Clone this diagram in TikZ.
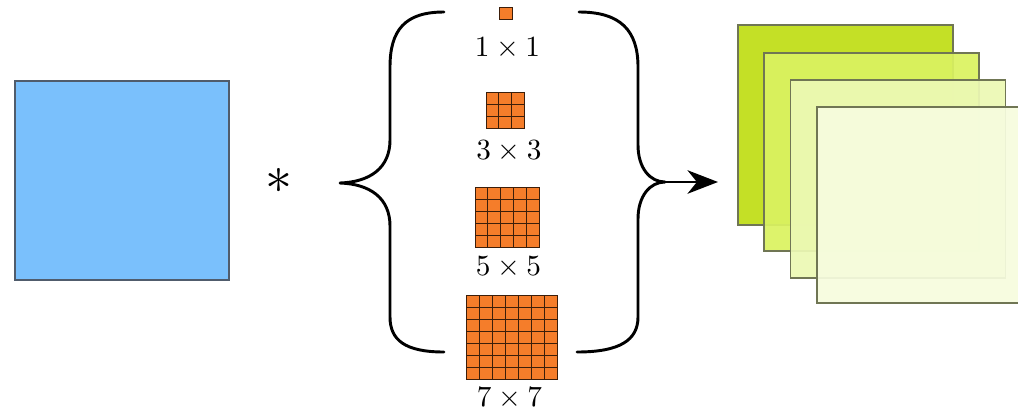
\documentclass[tikz,border=0pt]{standalone}
\usepackage{amsmath,amssymb}
\usepackage{xcolor}
\usepackage{tikz}
\usetikzlibrary{arrows.meta, positioning, calc}
\definecolor{inblue}{RGB}{122,192,252}
\definecolor{inedge}{RGB}{80,92,108}
\definecolor{kernorange}{RGB}{245,125,42}
\definecolor{kernedge}{RGB}{60,30,10}
\definecolor{mapA}{RGB}{192,222,22}
\definecolor{mapB}{RGB}{218,242,96}
\definecolor{mapC}{RGB}{236,249,180}
\definecolor{mapD}{RGB}{246,252,222}
\definecolor{mapedge}{RGB}{112,118,84}

\begin{document}
\begin{tikzpicture}[
    x=0.03cm, y=0.03cm,
    inmap/.style={draw=inedge, fill=inblue, line width=1pt, inner sep=0pt, outer sep=0pt},
    kern/.style={draw=kernedge, fill=kernorange, line width=0.8pt, inner sep=0pt, outer sep=0pt},
    cellline/.style={draw=kernedge, line width=0.7pt},
    klabel/.style={scale=2.5, transform shape, inner sep=0pt},
    featmap/.style={draw=mapedge, line width=0.9pt, inner sep=0pt, outer sep=0pt,
                    minimum width=6.45cm, fill opacity=0.93},
    brace/.style={line width=2.5pt, line cap=round, line join=round},
    flowarr/.style={-{Stealth[length=26pt, width=20pt, inset=8pt]}, line width=2.5pt},
]
\useasboundingbox (0,0) rectangle (1018,-411);
\clip (0,0) rectangle (1018,-411);

% --- Input ---
\node[inmap, minimum width=6.42cm, minimum height=5.97cm] (input) at (122,-180.5) {};
\node[scale=4.6, transform shape, inner sep=0pt] (conv) at (279,-181) {$\ast$};

% --- Kernels ---
\node[kern, minimum width=0.40cm, minimum height=0.38cm] (k1) at (506,-13.5) {};
\node[kern, minimum width=1.14cm, minimum height=1.08cm] (k3) at (505,-110) {};
\node[kern, minimum width=1.92cm, minimum height=1.80cm] (k5) at (507,-217) {};
\node[kern, minimum width=2.73cm, minimum height=2.52cm] (k7) at (511.5,-337) {};

\foreach \k/\n in {k3/3, k5/5, k7/7} {
  \pgfmathtruncatemacro{\m}{\n-1}
  \foreach \i in {1,...,\m} {
    \draw[cellline] ($(\k.north west)!\i/\n!(\k.north east)$) -- ($(\k.south west)!\i/\n!(\k.south east)$);
    \draw[cellline] ($(\k.north west)!\i/\n!(\k.south west)$) -- ($(\k.north east)!\i/\n!(\k.south east)$);
  }
}

\node[klabel] (l1) at (507.5,-48) {$1\times 1$};
\node[klabel] (l3) at (509,-151) {$3\times 3$};
\node[klabel] (l5) at (508.5,-267) {$5\times 5$};
\node[klabel] (l7) at (509.5,-398) {$7\times 7$};

% --- Braces ---
\draw[brace] (444,-12) .. controls (405,-12) and (390,-30) .. (390,-67) -- (390,-140)
    .. controls (390,-168) and (370,-182) .. (340,-183)
    .. controls (370,-184) and (390,-198) .. (390,-226) -- (390,-317)
    .. controls (390,-340) and (405,-352) .. (444,-352);
\draw[brace] (579,-12) .. controls (620,-12) and (638,-30) .. (638,-67) -- (638,-145)
    .. controls (638,-168) and (650,-182) .. (665,-182)
    .. controls (650,-182) and (638,-196) .. (638,-219) -- (638,-317)
    .. controls (638,-340) and (620,-352) .. (577,-352);

% --- Output feature maps ---
\node[featmap, fill=mapA, minimum height=6.00cm] (out1) at (845.5,-125) {};
\node[featmap, fill=mapB, minimum height=5.94cm] (out2) at (871.5,-152) {};
\node[featmap, fill=mapC, minimum height=5.94cm] (out3) at (898,-179) {};
\node[featmap, fill=mapD, minimum height=5.88cm] (out4) at (924.5,-205) {};

% --- Arrow ---
\coordinate (rtip) at (665,-182);
\coordinate (arrowend) at (718,-182);
\draw[flowarr] (rtip) -- (arrowend);

\end{tikzpicture}
\end{document}
